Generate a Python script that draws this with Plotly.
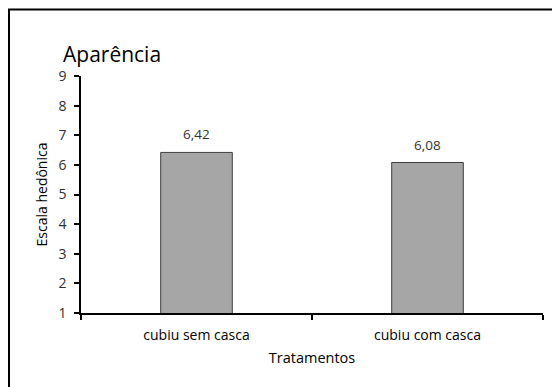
import plotly.graph_objects as go

categories = ["cubiu sem casca", "cubiu com casca"]
values = [6.42, 6.08]
y_ticks = [1, 2, 3, 4, 5, 6, 7, 8, 9]

W, H = 560, 387
OFF = 8  # page body offset
L, T = 81 - OFF, 76 - OFF
R = W - (543 - OFF)
B = H - (313 - OFF)
pw, ph = W - L - R, H - T - B

fig = go.Figure(go.Bar(
    x=categories, y=values,
    width=0.31,
    marker=dict(color="#a6a6a6", line=dict(color="#3f3f3f", width=1)),
    cliponaxis=False,
))
for c, v in zip(categories, values):
    fig.add_annotation(x=c, y=v, text=f"{v:.2f}".replace(".", ","),
                       showarrow=False, yanchor="bottom", yshift=7,
                       font=dict(size=13.5, color="#333333"))

font = "Open Sans"
fig.update_layout(
    width=W, height=H,
    margin=dict(l=L, r=R, t=T, b=B),
    paper_bgcolor="white", plot_bgcolor="white",
    separators=",.",
    font=dict(family=font, size=13, color="#404040"),
    showlegend=False,
)
fig.update_yaxes(
    range=[1, 9], tickvals=y_ticks, showgrid=False, zeroline=False,
    showline=True, linecolor="black", linewidth=1.5,
    ticks="outside", ticklen=5, tickcolor="black", tickwidth=1.5,
    ticklabelstandoff=5,
    tickfont=dict(size=14, color="#303030"),
    title=dict(text="Escala hedônica", font=dict(size=14, color="black"), standoff=8),
)
fig.update_xaxes(
    showgrid=False, zeroline=False,
    showline=True, linecolor="black", linewidth=1.5,
    ticks="outside", ticklen=5, tickcolor="black", tickwidth=1.5,
    tickson="boundaries", ticklabelstandoff=8,
    tickfont=dict(size=14, color="black"),
    title=dict(text="Tratamentos", font=dict(size=14.5, color="black"), standoff=10),
)
# outer chart border (only top-left visible in reference)
fig.add_shape(type="rect", xref="paper", yref="paper",
              x0=(1 - L) / pw, x1=1.2, y0=-1, y1=(H - B - 1.5) / ph,
              line=dict(color="black", width=2), layer="below")
fig.add_annotation(text="Aparência", xref="paper", yref="paper",
                   x=(53 - L) / pw, y=(H - B - 46) / ph, xanchor="left", yanchor="middle",
                   showarrow=False, font=dict(size=21, color="black"))

fig.write_html("out.html")
